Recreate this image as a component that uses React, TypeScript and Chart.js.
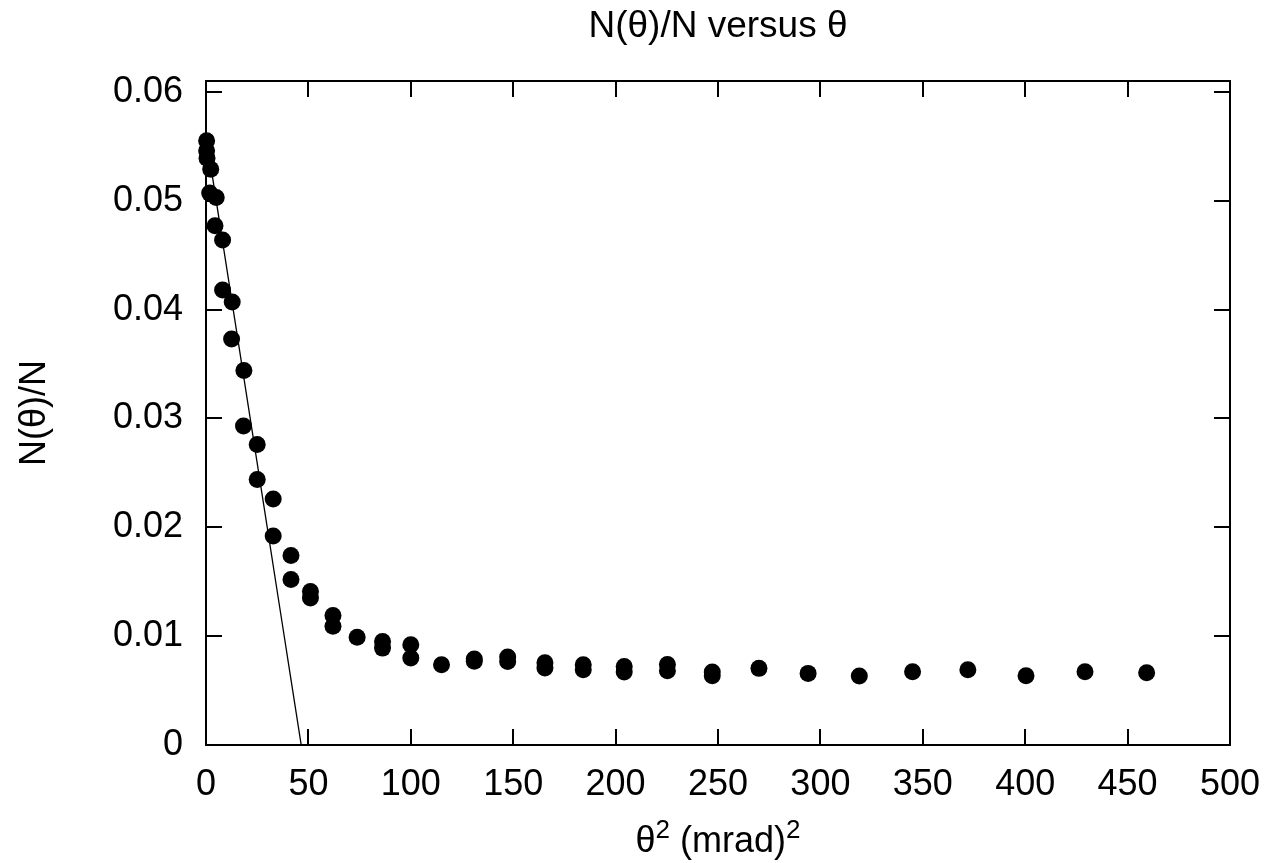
import React, { useEffect, useRef } from "react";
import { Chart, registerables } from "chart.js";

Chart.register(...registerables);

// Measured points: x = θ² (mrad)², y = N(θ)/N
const pointX: number[] = [
  0.3, 0.3, 0.5, 2.3, 1.8, 5.0, 4.4, 8.1, 8.1, 12.8, 12.5, 18.5, 18.3, 25, 25,
  32.8, 32.8, 41.5, 41.5, 51, 51, 62, 62, 73.8, 86.2, 86.2, 100, 100, 115, 131,
  131, 147.3, 147.3, 165.5, 165.5, 184.2, 184.2, 204.2, 204.2, 225.3, 225.3,
  247.2, 247.2, 270, 294, 319, 345, 372, 400.4, 429.2, 459.3,
];
const pointY: number[] = [
  0.0555, 0.0546, 0.0539, 0.0529, 0.0507, 0.0503, 0.0477, 0.0464, 0.0418,
  0.0407, 0.0373, 0.0344, 0.0293, 0.0276, 0.0244, 0.0226, 0.0192, 0.0174,
  0.0152, 0.0141, 0.0135, 0.0119, 0.0109, 0.0099, 0.0095, 0.0089, 0.0092,
  0.008, 0.00737, 0.0079, 0.0077, 0.00808, 0.00768, 0.00756, 0.00707, 0.00737,
  0.00691, 0.00722, 0.0067, 0.0074, 0.00682, 0.0067, 0.00636, 0.00704, 0.00658,
  0.00633, 0.00673, 0.00691, 0.00636, 0.00673, 0.00664,
];

// Fitted straight line (end points)
const fitX: number[] = [0, 46.5];
const fitY: number[] = [0.056, 0];

const xTickStep = 50;
const yTickStep = 0.01;

const FONT = '"Liberation Sans", Arial, Helvetica, sans-serif';
const FS = 36;
const TITLE_FS = 37;

const framePlugin = {
  id: "gnuplotFrame",
  afterDraw(chart: any) {
    const { ctx, chartArea } = chart;
    const { left, right, top, bottom } = chartArea;
    const xs = chart.scales.x;
    const ys = chart.scales.y;
    ctx.save();
    ctx.strokeStyle = "#000";
    ctx.lineWidth = 2;
    ctx.strokeRect(left, top, right - left, bottom - top);
    const tl = 16;
    ctx.beginPath();
    xs.ticks.forEach((t: any) => {
      const px = Math.round(xs.getPixelForValue(t.value));
      ctx.moveTo(px, bottom);
      ctx.lineTo(px, bottom - tl);
      ctx.moveTo(px, top);
      ctx.lineTo(px, top + tl);
    });
    ys.ticks.forEach((t: any) => {
      const py = Math.round(ys.getPixelForValue(t.value));
      ctx.moveTo(left, py);
      ctx.lineTo(left + tl, py);
      ctx.moveTo(right, py);
      ctx.lineTo(right - tl, py);
    });
    ctx.stroke();

    // Title
    ctx.fillStyle = "#000";
    ctx.font = `${TITLE_FS}px ${FONT}`;
    ctx.textAlign = "center";
    ctx.textBaseline = "alphabetic";
    const cx = (left + right) / 2;
    ctx.fillText("N(θ)/N versus θ", cx, 37);

    // X axis label with superscripts
    const big = `${FS}px ${FONT}`;
    const small = `${Math.round(FS * 0.72)}px ${FONT}`;
    const parts: [string, boolean][] = [
      ["θ", false],
      ["2", true],
      [" (mrad)", false],
      ["2", true],
    ];
    let total = 0;
    parts.forEach(([s, sup]) => {
      ctx.font = sup ? small : big;
      total += ctx.measureText(s).width;
    });
    let x = cx - total / 2;
    const base = 852;
    ctx.textAlign = "left";
    parts.forEach(([s, sup]) => {
      ctx.font = sup ? small : big;
      ctx.fillText(s, x, sup ? base - 14 : base);
      x += ctx.measureText(s).width;
    });

    // Y axis label
    ctx.font = big;
    ctx.save();
    ctx.translate(45, (top + bottom) / 2);
    ctx.rotate(-Math.PI / 2);
    ctx.textAlign = "center";
    ctx.textBaseline = "alphabetic";
    ctx.fillText("N(θ)/N", 0, 0);
    ctx.restore();
    ctx.restore();
  },
};

export default function App() {
  const ref = useRef<HTMLCanvasElement | null>(null);
  useEffect(() => {
    if (!ref.current) return;
    const pts = pointX.map((x, i) => ({ x, y: pointY[i] }));
    const fit = fitX.map((x, i) => ({ x, y: fitY[i] }));
    const chart = new Chart(ref.current, {
      type: "scatter",
      data: {
        datasets: [
          {
            type: "line",
            data: fit,
            borderColor: "#000",
            borderWidth: 1.3,
            pointRadius: 0,
            showLine: true,
            fill: false,
          } as any,
          {
            data: pts,
            backgroundColor: "#000",
            borderWidth: 0,
            pointRadius: 8.5,
            pointHoverRadius: 8.5,
            clip: false,
          } as any,
        ],
      },
      options: {
        animation: false,
        responsive: false,
        events: [],
        layout: { padding: { top: 81, right: 40, left: 0, bottom: 0 } },
        plugins: {
          legend: { display: false },
          tooltip: { enabled: false },
          title: { display: false },
        },
        scales: {
          x: {
            type: "linear",
            min: 0,
            max: 500,
            grid: { display: false, drawTicks: false },
            border: { display: false },
            ticks: {
              stepSize: xTickStep,
              color: "#000",
              font: { family: FONT, size: FS },
              padding: 18,
              maxRotation: 0,
              autoSkip: false,
            },
            afterFit: (s: any) => {
              s.height = 118;
              s.paddingLeft = 0;
              s.paddingRight = 0;
            },
          },
          y: {
            type: "linear",
            min: 0,
            max: 0.061,
            grid: { display: false, drawTicks: false },
            border: { display: false },
            ticks: {
              stepSize: yTickStep,
              includeBounds: false,
              color: "#000",
              font: { family: FONT, size: FS },
              padding: 23,
              autoSkip: false,
              callback: (v: any) => {
                const n = Math.round(Number(v) * 100) / 100;
                return n === 0 ? "0" : n.toFixed(2);
              },
            },
            afterFit: (s: any) => {
              s.width = 206;
              s.paddingTop = 0;
              s.paddingBottom = 0;
            },
          },
        },
      } as any,
      plugins: [framePlugin],
    });
    return () => chart.destroy();
  }, []);
  return (
    <div style={{ position: "absolute", left: 0, top: 0, width: 1270, height: 863, background: "#fff" }}>
      <canvas ref={ref} width={1270} height={863} style={{ display: "block" }} />
    </div>
  );
}
